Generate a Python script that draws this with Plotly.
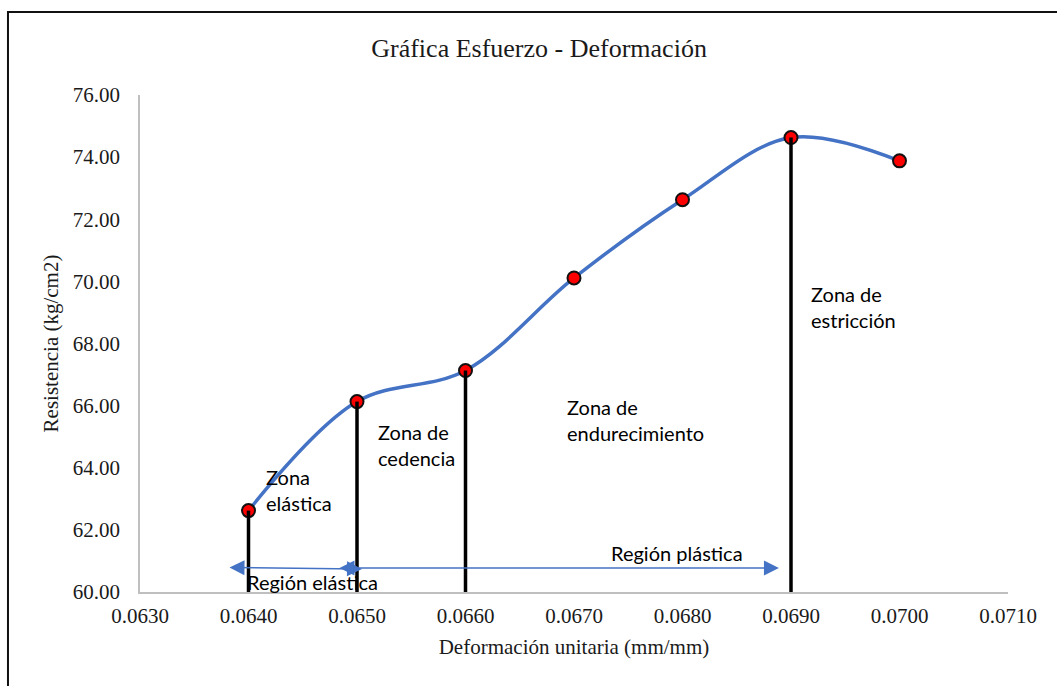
import plotly.graph_objects as go

# Ensayo: deformación unitaria (mm/mm) vs resistencia (kg/cm2)
deformacion = [0.0640, 0.0650, 0.0660, 0.0670, 0.0680, 0.0690, 0.0700]
resistencia = [62.62, 66.13, 67.13, 70.11, 72.63, 74.63, 73.88]

# Puntos que marcan el límite de cada zona (índices en las listas)
limites_zona = [0, 1, 2, 5]

x_ticks = [0.0630, 0.0640, 0.0650, 0.0660, 0.0670, 0.0680, 0.0690, 0.0700, 0.0710]
y_ticks = [60, 62, 64, 66, 68, 70, 72, 74, 76]

AZUL = "#4472C4"
SERIF = "Liberation Serif"
SANS = "Lato"

fig = go.Figure()

# Curva suavizada
fig.add_trace(go.Scatter(
    x=deformacion, y=resistencia, mode="lines",
    line=dict(color=AZUL, width=3.5, shape="spline", smoothing=1),
    hoverinfo="skip", showlegend=False,
))

# Puntos medidos
fig.add_trace(go.Scatter(
    x=deformacion, y=resistencia, mode="markers",
    marker=dict(color="#FF0000", size=13, line=dict(color="#111111", width=2)),
    showlegend=False,
))

# Líneas verticales que separan las zonas
for i in limites_zona:
    fig.add_trace(go.Scatter(
        x=[deformacion[i], deformacion[i]], y=[y_ticks[0], resistencia[i]],
        mode="lines", line=dict(color="black", width=3.5),
        hoverinfo="skip", showlegend=False,
    ))

# Flechas de región elástica y plástica
flechas = [
    dict(x0=0.063811, y0=60.79, x1=0.065046, y1=60.74),
    dict(x0=0.064825, y0=60.77, x1=0.068889, y1=60.77),
]
for f in flechas:
    fig.add_annotation(
        x=f["x1"], y=f["y1"], ax=f["x0"], ay=f["y0"],
        xref="x", yref="y", axref="x", ayref="y",
        text="", showarrow=True, arrowhead=2, arrowside="end+start",
        arrowsize=2, arrowwidth=1.5, arrowcolor=AZUL, standoff=0, startstandoff=0,
    )

# Etiquetas de zona
etiquetas = [
    ("Zona<br>elástica", 0.064150, 63.27),
    ("Zona de<br>cedencia", 0.065185, 64.72),
    ("Zona de<br>endurecimiento", 0.066925, 65.54),
    ("Zona de<br>estricción", 0.069175, 69.19),
    ("Región elástica", 0.063975, 60.32),
    ("Región plástica", 0.067335, 61.26),
]
for texto, x, y in etiquetas:
    fig.add_annotation(
        x=x, y=y, xref="x", yref="y", text=texto, showarrow=False,
        xanchor="left", yanchor="middle", align="left", borderpad=0,
        font=dict(family=SANS, size=20, color="black"),
    )

# Marco del gráfico
fig.add_shape(
    type="rect", xref="paper", yref="paper",
    x0=-0.1521, x1=1.08, y0=-0.2, y1=1.167,
    line=dict(color="#111111", width=2), fillcolor="rgba(0,0,0,0)", layer="above",
)

fig.update_layout(
    width=1057, height=686,
    margin=dict(l=140, r=49, t=95, b=94),
    paper_bgcolor="white", plot_bgcolor="white",
    font=dict(family=SERIF, color="#1a1a1a"),
    title=dict(
        text="Gráfica Esfuerzo - Deformación",
        font=dict(family=SERIF, size=26, color="#1a1a1a"),
        xref="container", yref="container", x=0.51, y=1 - 48 / 686,
        xanchor="center", yanchor="middle",
    ),
    xaxis=dict(
        range=[0.063, 0.071], tickvals=x_ticks, tickformat=".4f",
        showgrid=False, zeroline=False,
        showline=True, linecolor="#BFBFBF", linewidth=1.5,
        ticks="", ticklabelstandoff=4,
        tickfont=dict(family=SERIF, size=21, color="#1a1a1a"),
        title=dict(text="Deformación unitaria (mm/mm)", standoff=12,
                   font=dict(family=SERIF, size=21, color="#1a1a1a")),
    ),
    yaxis=dict(
        range=[60, 76], tickvals=y_ticks, tickformat=".2f",
        showgrid=False, zeroline=False,
        showline=True, linecolor="#BFBFBF", linewidth=1.5,
        ticks="", ticklabelstandoff=14,
        tickfont=dict(family=SERIF, size=21, color="#1a1a1a"),
        title=dict(text="Resistencia (kg/cm2)", standoff=8,
                   font=dict(family=SERIF, size=21, color="#1a1a1a")),
    ),
)

fig.write_html("out.html")
